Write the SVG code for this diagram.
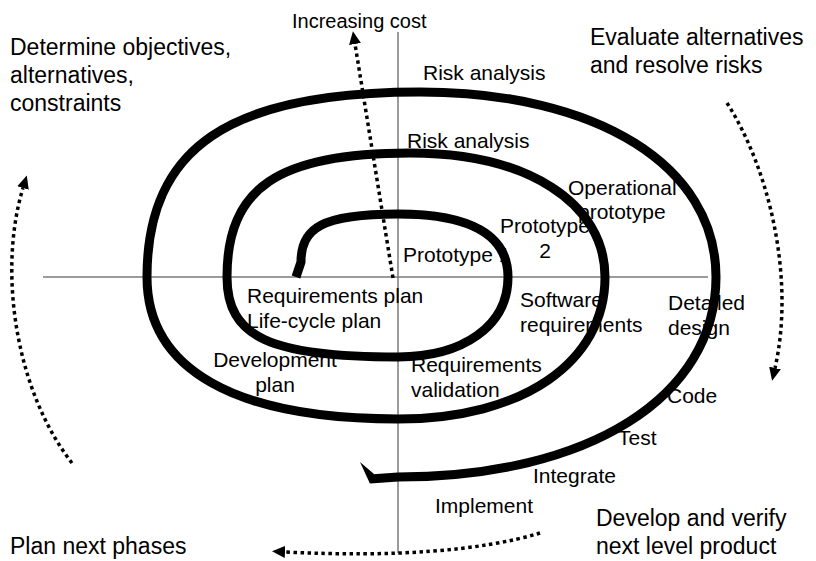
<svg xmlns="http://www.w3.org/2000/svg" width="816" height="561" viewBox="0 0 816 561">
<style>
text{font-family:"Liberation Sans",Arial,sans-serif;fill:#000}
.corner{font-size:23px}
.lbl{font-size:21px}
.axis{stroke:#7a7a7a;stroke-width:1.5;fill:none}
.spiral{stroke:#000;stroke-width:9;fill:none;stroke-linecap:butt;stroke-linejoin:round}
.dot{stroke:#000;stroke-width:3.5;stroke-dasharray:3.5 3.5;fill:none;marker-end:url(#ah)}
</style>
<defs>
<marker id="ah" markerUnits="userSpaceOnUse" markerWidth="13" markerHeight="12" viewBox="0 0 13 12" refX="0" refY="6" orient="auto">
<path d="M0,0 L13,6 L0,12 z" fill="#000"/>
</marker>
</defs>
<rect width="816" height="561" fill="#fff"/>
<g id="axes">
<line class="axis" x1="43" y1="277" x2="708" y2="277"/>
<line class="axis" x1="398" y1="32" x2="398" y2="553"/>
</g>
<g id="labels">
<g id="increasing-cost"><text x="292" y="28" style="font-size:20px">Increasing cost</text></g>
<g id="determine"><text class="corner" x="10" y="55">Determine objectives,</text><text class="corner" x="10" y="83">alternatives,</text><text class="corner" x="10" y="111">constraints</text></g>
<g id="evaluate"><text class="corner" x="590" y="45">Evaluate alternatives</text><text class="corner" x="590" y="73">and resolve risks</text></g>
<g id="plan-next"><text class="corner" x="10" y="554">Plan next phases</text></g>
<g id="develop"><text class="corner" x="596" y="526">Develop and verify</text><text class="corner" x="596" y="554">next level product</text></g>
<g id="risk1"><text class="lbl" x="423" y="80">Risk analysis</text></g>
<g id="risk2"><text class="lbl" x="407" y="148">Risk analysis</text></g>
<g id="op-proto"><text class="lbl" x="568" y="195">Operational</text><text class="lbl" x="578" y="219">prototype</text></g>
<g id="proto2"><text class="lbl" x="545" y="233" text-anchor="middle">Prototype</text><text class="lbl" x="545" y="258" text-anchor="middle">2</text></g>
<g id="proto1"><text class="lbl" x="403" y="262">Prototype 1</text></g>
<g id="req-plan"><text class="lbl" x="247" y="303">Requirements plan</text><text class="lbl" x="247" y="328">Life-cycle plan</text></g>
<g id="dev-plan"><text class="lbl" x="275" y="367" text-anchor="middle">Development</text><text class="lbl" x="275" y="392" text-anchor="middle">plan</text></g>
<g id="req-val"><text class="lbl" x="411" y="372">Requirements</text><text class="lbl" x="411" y="397">validation</text></g>
<g id="sw-req"><text class="lbl" x="520" y="307">Software</text><text class="lbl" x="520" y="332">requirements</text></g>
<g id="detailed"><text class="lbl" x="668" y="310">Detailed</text><text class="lbl" x="668" y="335">design</text></g>
<g id="code"><text class="lbl" x="667" y="403">Code</text></g>
<g id="test"><text class="lbl" x="618" y="445">Test</text></g>
<g id="integrate"><text class="lbl" x="533" y="483">Integrate</text></g>
<g id="implement"><text class="lbl" x="435" y="513">Implement</text></g>
</g>
<g id="spiral">
<path class="spiral" d="M296,277 L301,262 C301,228 322,214 398,214 C470,214 508,235 508,277 C508,325.6 463.6,357 398,357 C269.75,357 227,337 227,277 C227,187.7 278.2,153 410,153 C527,153 605,202.6 605,277 C605,362.2 522.8,419 398,419 C234.8,419 147,369.3 147,277 C147,147.5 228.9,92 420,92 C597.6,92 716,166 716,277 C716,397 588.8,477 398,477 L370,479"/>
<polygon points="360,462 374,474 370,483.8" fill="#000"/>
</g>
<g id="connectors">
<path class="dot" d="M393,278 L355,44"/>
<path class="dot" d="M72,463 C15,390 -2,270 23,188"/>
<path class="dot" d="M727,103 C770,170 795,280 775,368"/>
<path class="dot" d="M540,533 Q450,560 285,552"/>
</g>
</svg>
